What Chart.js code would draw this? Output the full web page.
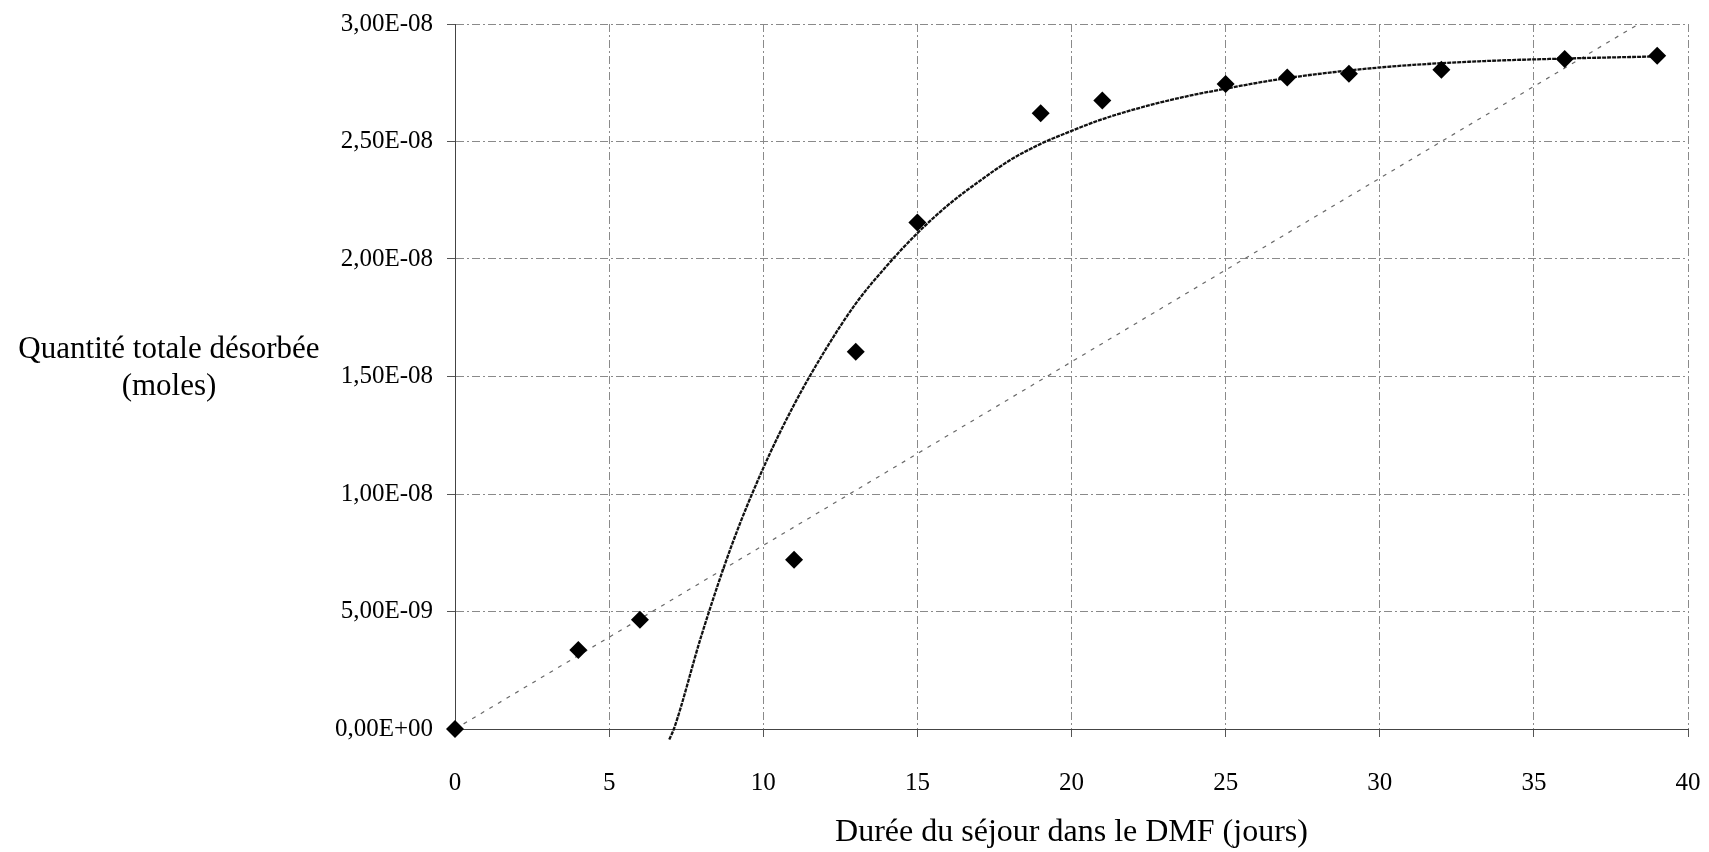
<!DOCTYPE html>
<html>
<head>
<meta charset="utf-8">
<script src="https://cdn.jsdelivr.net/npm/chart.js@4.4.1/dist/chart.umd.min.js"></script>
<style>
  html, body { margin: 0; padding: 0; background: #ffffff; }
  #wrap { width: 1709px; height: 852px; position: relative; background: #ffffff; }
</style>
</head>
<body>
<div id="wrap"><canvas id="c"></canvas></div>
<script>
// ---- Data ----
const days = [0, 4, 6, 11, 13, 15, 19, 21, 25, 27, 29, 32, 36, 39];
const quantities = [0, 3.36e-9, 4.65e-9, 7.2e-9, 1.605e-8, 2.155e-8, 2.62e-8, 2.675e-8, 2.745e-8, 2.772e-8, 2.788e-8, 2.805e-8, 2.851e-8, 2.865e-8];

// fitted (saturation) trend curve, read at sample points
const fitDays   = [6.95, 7.1, 8, 9, 10, 11, 12, 13, 14, 15, 16, 17, 18, 19, 20, 21, 23, 25, 27, 30, 33, 36, 39];
const fitValues = [-4.5e-10, 0, 4.0e-9, 7.9e-9, 1.11e-8, 1.38e-8, 1.61e-8, 1.81e-8, 1.97e-8, 2.11e-8, 2.23e-8, 2.33e-8, 2.42e-8, 2.49e-8, 2.545e-8, 2.595e-8, 2.67e-8, 2.725e-8, 2.77e-8, 2.815e-8, 2.84e-8, 2.853e-8, 2.862e-8];

// dotted linear trend line, end points
const linDays   = [0, 38.4];
const linValues = [0, 3.0e-8];

const xTicks = [0, 5, 10, 15, 20, 25, 30, 35, 40];
const yTicks = [0, 5e-9, 1e-8, 1.5e-8, 2e-8, 2.5e-8, 3e-8];

const xTitle = 'Durée du séjour dans le DMF (jours)';
const yTitleLines = ['Quantité totale désorbée', '(moles)'];

// ---- Helpers ----
const FONT = "'Liberation Serif', 'Times New Roman', serif";

function fmtSci(v) {
  if (Math.abs(v) < 1e-20) return '0,00E+00';
  const e = Math.floor(Math.log10(Math.abs(v)) + 1e-9);
  const m = v / Math.pow(10, e);
  const sign = e < 0 ? '-' : '+';
  return m.toFixed(2).replace('.', ',') + 'E' + sign + String(Math.abs(e)).padStart(2, '0');
}

const toXY = (xs, ys) => xs.map((x, i) => ({ x: x, y: ys[i] }));

const yTitlePlugin = {
  id: 'yTitleHorizontal',
  afterDraw(chart) {
    const ctx = chart.ctx;
    const area = chart.chartArea;
    const cy = (area.top + area.bottom) / 2;
    const cx = area.left - 286;
    ctx.save();
    ctx.font = '31px ' + FONT;
    ctx.fillStyle = '#000';
    ctx.textAlign = 'center';
    ctx.textBaseline = 'alphabetic';
    ctx.fillText(yTitleLines[0], cx, cy - 18.5);
    ctx.fillText(yTitleLines[1], cx, cy + 18.5);
    ctx.restore();
  }
};

const whiteBg = {
  id: 'whiteBg',
  beforeDraw(chart) {
    const ctx = chart.ctx;
    ctx.save();
    ctx.fillStyle = '#fff';
    ctx.fillRect(0, 0, chart.width, chart.height);
    ctx.restore();
  }
};

const gridCommon = {
  color: '#8a8a8a',
  lineWidth: 1,
  tickLength: 8,
  tickColor: '#555',
  tickWidth: 1
};

new Chart(document.getElementById('c'), {
  type: 'scatter',
  data: {
    datasets: [
      {
        label: 'Mesures',
        data: toXY(days, quantities),
        showLine: false,
        pointStyle: 'rectRot',
        pointRadius: 9,
        pointHoverRadius: 9,
        pointBackgroundColor: '#000',
        pointBorderColor: '#000',
        pointBorderWidth: 0,
        clip: false
      },
      {
        label: 'Courbe ajustée',
        data: toXY(fitDays, fitValues),
        showLine: true,
        borderColor: '#111',
        borderWidth: 2.3,
        borderDash: [4, 1],
        cubicInterpolationMode: 'monotone',
        pointRadius: 0,
        clip: { left: 0, top: 0, right: 0, bottom: 12 }
      },
      {
        label: 'Tendance linéaire',
        data: toXY(linDays, linValues),
        showLine: true,
        borderColor: '#6a6a6a',
        borderWidth: 1.2,
        borderDash: [4, 6],
        pointRadius: 0,
        tension: 0
      }
    ]
  },
  options: {
    responsive: true,
    maintainAspectRatio: false,
    animation: false,
    events: [],
    layout: { padding: { left: 0, right: 21, top: 24, bottom: 0 } },
    plugins: {
      legend: { display: false },
      tooltip: { enabled: false },
      title: { display: false }
    },
    scales: {
      x: {
        type: 'linear',
        min: 0,
        max: 40,
        afterBuildTicks: s => { s.ticks = xTicks.map(v => ({ value: v })); },
        afterFit: s => { s.height = 123; s.paddingLeft = 0; s.paddingRight = 0; },
        grid: gridCommon,
        border: { display: true, color: '#444', width: 1, dash: [8, 3, 2, 3] },
        ticks: {
          color: '#000',
          font: { family: FONT, size: 25 },
          padding: 31,
          maxRotation: 0,
          callback: v => String(v)
        },
        title: {
          display: true,
          text: xTitle,
          color: '#000',
          font: { family: FONT, size: 32 },
          padding: { top: 0, bottom: 0 }
        }
      },
      y: {
        type: 'linear',
        min: 0,
        max: 3e-8,
        afterBuildTicks: s => { s.ticks = yTicks.map(v => ({ value: v })); },
        afterFit: s => { s.width = 455; s.paddingTop = 0; s.paddingBottom = 0; },
        grid: gridCommon,
        border: { display: true, color: '#444', width: 1, dash: [8, 3, 2, 3] },
        ticks: {
          color: '#000',
          font: { family: FONT, size: 25 },
          padding: 14,
          callback: v => fmtSci(v)
        },
        title: { display: false }
      }
    }
  },
  plugins: [whiteBg, yTitlePlugin]
});
</script>
</body>
</html>
